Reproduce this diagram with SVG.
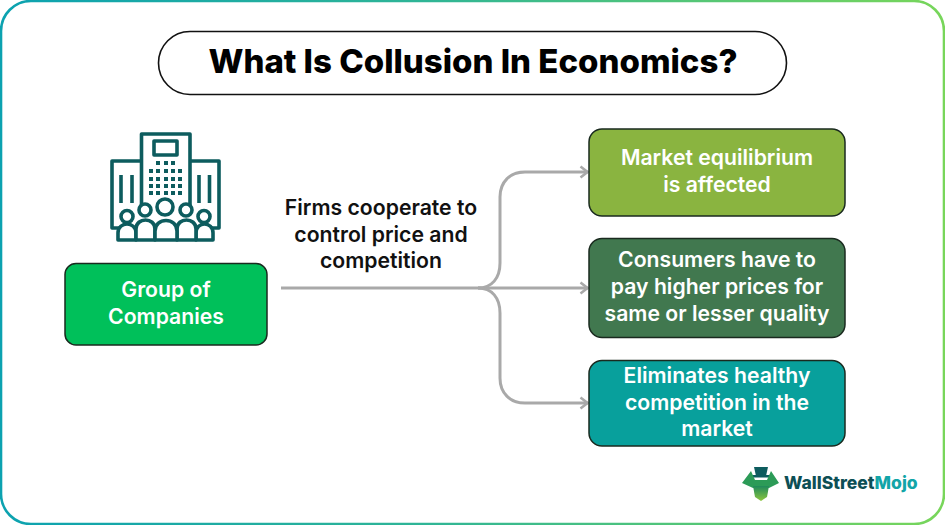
<svg xmlns="http://www.w3.org/2000/svg" width="945" height="525" viewBox="0 0 945 525">
<defs>
<linearGradient id="frame" x1="0" y1="0" x2="1" y2="0"><stop offset="0" stop-color="#0ca2b0"/><stop offset="0.45" stop-color="#2fb596"/><stop offset="1" stop-color="#78d65a"/></linearGradient>
<linearGradient id="bull" x1="0" y1="0" x2="0" y2="1"><stop offset="0" stop-color="#1f8a5a"/><stop offset="1" stop-color="#8cc63f"/></linearGradient>
<marker id="arr" markerUnits="userSpaceOnUse" markerWidth="12" markerHeight="14" refX="9.5" refY="7" orient="auto"><path d="M2 1.5L9 7L2 12.5" fill="none" stroke="#a9a9a9" stroke-width="2.6"/></marker>
</defs>
<style>
.t{font-family:"Inter","Liberation Sans",sans-serif}
.b{font-family:"Inter","Liberation Sans",sans-serif;font-weight:600;font-size:21.2px;text-anchor:middle}
.w{fill:#fff}
.k{fill:#111}
.box{stroke:#1a2a1f;stroke-width:1.5}
.c{fill:none;stroke:#a9a9a9;stroke-width:3}
.i{fill:none;stroke:#0d5c5e;stroke-width:3.6;stroke-linejoin:round}
.p{fill:#fff;stroke:#0d5c5e;stroke-width:3.6;stroke-linejoin:round}
.d{fill:#0d5c5e}
</style>
<rect width="945" height="525" fill="#fff"/>
<rect x="1" y="1" width="943" height="523" rx="30" fill="none" stroke="url(#frame)" stroke-width="2.6"/>
<g id="title"><rect x="158.500" y="31.500" width="628" height="63" rx="31.500" fill="#fff" stroke="#111" stroke-width="1.6"/>
<text x="473" y="72.500" class="t" font-size="33" font-weight="800" text-anchor="middle" fill="#000">What Is Collusion In Economics?</text></g>
<g id="connectors">
<path class="c" d="M281 288H478" />
<path class="c" marker-end="url(#arr)" d="M478 288H588"/>
<path class="c" marker-end="url(#arr)" d="M478 288C492 288 500 278 500 263V197C500 182 510 172 525 172H588"/>
<path class="c" marker-end="url(#arr)" d="M478 288C492 288 500 298 500 313V378C500 393 510 403 525 403H588"/>
</g>
<g id="icon">
<path class="i" d="M141.500 208V134H190V208"/>
<path class="i" d="M141.500 161H112V228H119M190 161H219V228H212"/>
<rect class="i" x="154" y="141" width="23" height="14"/>
<path class="i" d="M121 175V203M132 175V203M199 175V203M209.500 175V203"/>
<g class="d"><rect x="156" y="161" width="4" height="4"/><rect x="164" y="161" width="4" height="4"/><rect x="171" y="161" width="4" height="4"/>
<rect x="149" y="169" width="4" height="4"/><rect x="156" y="169" width="4" height="4"/><rect x="164" y="169" width="4" height="4"/><rect x="171" y="169" width="4" height="4"/><rect x="178" y="169" width="4" height="4"/>
<rect x="149" y="177" width="4" height="4"/><rect x="156" y="177" width="4" height="4"/><rect x="164" y="177" width="4" height="4"/><rect x="171" y="177" width="4" height="4"/><rect x="178" y="177" width="4" height="4"/>
<rect x="149" y="184" width="4" height="4"/><rect x="156" y="184" width="4" height="4"/><rect x="164" y="184" width="4" height="4"/><rect x="171" y="184" width="4" height="4"/><rect x="178" y="184" width="4" height="4"/>
<rect x="149" y="191" width="4" height="4"/><rect x="156" y="191" width="4" height="4"/><rect x="164" y="191" width="4" height="4"/><rect x="171" y="191" width="4" height="4"/><rect x="178" y="191" width="4" height="4"/></g>
<path class="p" d="M118 240V233C118 221 136 221 136 233V240ZM196 240V233C196 221 213 221 213 233V240Z"/>
<path class="p" d="M136 240V229C136 217 155 217 155 229V240ZM177 240V229C177 217 196 217 196 229V240Z"/>
<path class="p" d="M155 240V231C155 217 177 217 177 231V240Z"/>
<circle class="p" cx="127" cy="216.500" r="6"/><circle class="p" cx="145" cy="210" r="6"/><circle class="p" cx="165" cy="207" r="8"/><circle class="p" cx="186" cy="210" r="6"/><circle class="p" cx="204" cy="216.500" r="6"/>
</g>
<g id="group-of-companies"><rect class="box" x="65" y="263.500" width="202" height="81.500" rx="11" fill="#00c05a"/>
<text class="b w" x="166" y="297">Group of</text><text class="b w" x="166" y="324">Companies</text></g>
<g id="connector-label"><text class="b k" x="381" y="215">Firms cooperate to</text><text class="b k" x="381" y="242">control price and</text><text class="b k" x="381" y="268">competition</text></g>
<g id="market"><rect class="box" x="589" y="129" width="256" height="87" rx="13" fill="#8ab440"/>
<text class="b w" x="717" y="165">Market equilibrium</text><text class="b w" x="717" y="192">is affected</text></g>
<g id="consumers"><rect class="box" x="589" y="238.500" width="256" height="99" rx="13" fill="#41784f"/>
<text class="b w" x="717" y="267">Consumers have to</text><text class="b w" x="717" y="294">pay higher prices for</text><text class="b w" x="717" y="321">same or lesser quality</text></g>
<g id="eliminates"><rect class="box" x="589" y="360.500" width="256" height="85.500" rx="13" fill="#08a09c"/>
<text class="b w" x="717" y="383">Eliminates healthy</text><text class="b w" x="717" y="410">competition in the</text><text class="b w" x="717" y="436">market</text></g>
<g id="logo">
<path d="M754 467H768L766 476H756Z" fill="#0d5c5e"/><rect x="751" y="475" width="20" height="2.500" fill="#0d5c5e"/>
<path d="M742 483L751 471L755 480L767 480L771 471L779 483L769 488L753 488Z" fill="#2c9b57"/>
<path d="M753 486H769L767 497L761 501L755 497Z" fill="url(#bull)"/>
<text x="784" y="489" font-family="Inter,'Liberation Sans',sans-serif" font-size="17.500" font-weight="800" fill="#0d4f55">WallStreet<tspan fill="#12a5a8">Mojo</tspan></text>
</g>
</svg>
